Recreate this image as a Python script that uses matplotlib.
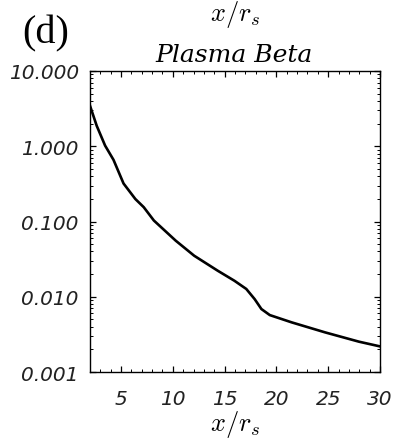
import numpy as np
import matplotlib
matplotlib.use('Agg')
import matplotlib.pyplot as plt
from matplotlib.ticker import MultipleLocator, LogLocator, FixedLocator

# plasma beta profile along the axis
x = [2.0, 2.65, 3.46, 4.27, 5.24, 6.38, 7.19, 8.17, 10.28, 12.06, 14.33,
     15.95, 17.09, 17.9, 18.55, 19.36, 21.47, 24.71, 27.97, 30.0]
beta = [3.46, 1.87, 1.02, 0.66, 0.32, 0.199, 0.155, 0.103, 0.0556, 0.0351,
        0.0222, 0.0163, 0.0127, 0.0093, 0.00687, 0.00571, 0.00457, 0.00336,
        0.00253, 0.00219]

xticks = [5, 10, 15, 20, 25, 30]
yticks = [0.001, 0.01, 0.1, 1.0, 10.0]
ylabels = ['0.001', '0.010', '0.100', '1.000', '10.000']

plt.rcParams['mathtext.fontset'] = 'cm'

fig = plt.figure(figsize=(3.95, 4.39), dpi=100)
ax = fig.add_axes([0.2278, 0.1503, 0.7342, 0.6857])

ax.plot(x, beta, color='black', lw=1.9)
ax.set_yscale('log')
ax.set_xlim(2, 30)
ax.set_ylim(0.001, 10)

ax.xaxis.set_major_locator(FixedLocator(xticks))
ax.xaxis.set_minor_locator(MultipleLocator(1))
ax.yaxis.set_major_locator(FixedLocator(yticks))
ax.yaxis.set_minor_locator(LogLocator(base=10, subs=np.arange(2, 10)))
ax.set_yticklabels(ylabels)
ax.set_xticklabels([str(t) for t in xticks])

for lab in ax.get_xticklabels() + ax.get_yticklabels():
    lab.set_fontfamily('DejaVu Sans')
    lab.set_fontstyle('italic')
    lab.set_fontsize(14.5)
    lab.set_color('#222222')

ax.tick_params(which='both', direction='in', top=True, right=True)
ax.tick_params(which='major', length=4, width=0.9)
ax.tick_params(which='minor', length=2.2, width=0.7)
ax.tick_params(axis='x', which='major', pad=12)
ax.tick_params(axis='y', which='major', pad=8)
for s in ax.spines.values():
    s.set_linewidth(1.0)

ax.set_xlabel(r'$x/r_s$', fontsize=19, labelpad=0)
fig.text(0.595, 0.966, r'$x/r_s$', fontsize=19, ha='center', va='center')
fig.text(0.593, 0.873, 'Plasma Beta', fontsize=18, family='DejaVu Serif',
         style='italic', ha='center', va='center')
fig.text(0.116, 0.922, '(d)', fontsize=29, family='Liberation Serif',
         ha='center', va='center')

fig.savefig('out.png', dpi=100)
